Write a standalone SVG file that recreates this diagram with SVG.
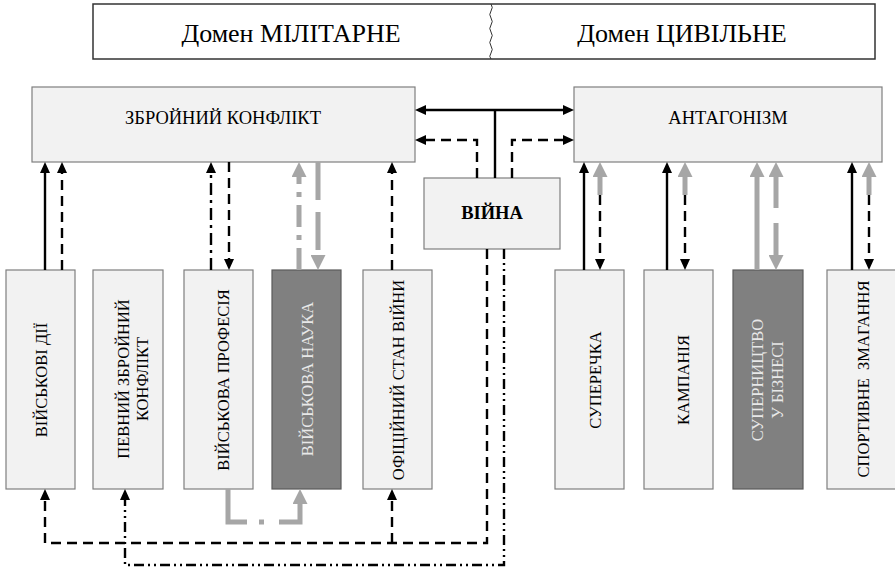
<svg xmlns="http://www.w3.org/2000/svg" width="895" height="567" viewBox="0 0 895 567">
<style>
.box{fill:#f2f2f2;stroke:#7f7f7f;stroke-width:1.2}
.dark{fill:#808080;stroke:#5a5a5a;stroke-width:1.2}
.t{font-family:"Liberation Serif","Times New Roman",serif;fill:#000}
.h{font-size:18.5px}
.v{font-size:16.5px}
.lt{fill:#e8e8e8}
.b{fill:none;stroke:#000;stroke-width:2.4}
.g{fill:none;stroke:#a6a6a6;stroke-width:5}
.dash{stroke-dasharray:10 6}
.dd{stroke-dasharray:12 5 3 5}
.ddd{stroke-dasharray:10 4 2 4 2 4}
</style>
<defs>
<marker id="ab" markerUnits="userSpaceOnUse" markerWidth="11" markerHeight="10" refX="1" refY="5" orient="auto-start-reverse"><path d="M0,0 L11,5 L0,10 z" fill="#000"/></marker>
<marker id="ag" markerUnits="userSpaceOnUse" markerWidth="15" markerHeight="15" refX="1" refY="7.5" orient="auto-start-reverse"><path d="M0,0 L15,7.5 L0,15 z" fill="#a6a6a6"/></marker>
</defs>

<g id="domains">
<rect x="93" y="4" width="782" height="55" fill="#fff" stroke="#333" stroke-width="1.5"/>
<path d="M491,4 q2.5,3.5 0,7 q-2.5,3.5 0,7 q2.5,3.5 0,7 q-2.5,3.5 0,7 q2.5,3.5 0,7 q-2.5,3.5 0,7 q2.5,3.5 0,7 q-2.5,3.5 0,6" fill="none" stroke="#333" stroke-width="1"/>
<text class="t" x="291" y="42" font-size="26" text-anchor="middle">Домен МІЛІТАРНЕ</text>
<text class="t" x="682" y="42" font-size="26" text-anchor="middle">Домен ЦИВІЛЬНЕ</text>
</g>

<g id="n-zk"><rect class="box" x="32" y="87" width="383" height="75"/><text class="t h" x="223" y="124" text-anchor="middle">ЗБРОЙНИЙ КОНФЛІКТ</text></g>
<g id="n-ant"><rect class="box" x="574" y="87" width="308" height="75"/><text class="t h" x="728" y="124" text-anchor="middle">АНТАГОНІЗМ</text></g>
<g id="n-war"><rect class="box" x="424" y="178" width="136" height="71" stroke="#444"/><text class="t h" x="492" y="219" text-anchor="middle" font-weight="bold">ВІЙНА</text></g>

<g id="n-b1"><rect class="box" x="6" y="270" width="69" height="219"/><text class="t v" transform="translate(41,380) rotate(-90)" text-anchor="middle" dominant-baseline="central">ВІЙСЬКОВІ ДІЇ</text></g>
<g id="n-b2"><rect class="box" x="93" y="270" width="70" height="219"/><text class="t v" transform="translate(123,379) rotate(-90)" text-anchor="middle" dominant-baseline="central">ПЕВНИЙ ЗБРОЙНИЙ</text><text class="t v" transform="translate(142,379) rotate(-90)" text-anchor="middle" dominant-baseline="central">КОНФЛІКТ</text></g>
<g id="n-b3"><rect class="box" x="184" y="270" width="69" height="219"/><text class="t v" transform="translate(223,380) rotate(-90)" text-anchor="middle" dominant-baseline="central">ВІЙСЬКОВА ПРОФЕСІЯ</text></g>
<g id="n-b4"><rect class="dark" x="272" y="270" width="69" height="219"/><text class="t v lt" transform="translate(307,379) rotate(-90)" text-anchor="middle" dominant-baseline="central">ВІЙСЬКОВА НАУКА</text></g>
<g id="n-b5"><rect class="box" x="363" y="270" width="69" height="219"/><text class="t v" transform="translate(398,380) rotate(-90)" text-anchor="middle" dominant-baseline="central">ОФІЦІЙНИЙ СТАН ВІЙНИ</text></g>
<g id="n-b6"><rect class="box" x="555" y="270" width="69" height="219"/><text class="t v" transform="translate(595,380) rotate(-90)" text-anchor="middle" dominant-baseline="central">СУПЕРЕЧКА</text></g>
<g id="n-b7"><rect class="box" x="644" y="270" width="69" height="219"/><text class="t v" transform="translate(683,380) rotate(-90)" text-anchor="middle" dominant-baseline="central">КАМПАНІЯ</text></g>
<g id="n-b8"><rect class="dark" x="733" y="270" width="70" height="219"/><text class="t v lt" transform="translate(757,380) rotate(-90)" text-anchor="middle" dominant-baseline="central">СУПЕРНИЦТВО</text><text class="t v lt" transform="translate(777,380) rotate(-90)" text-anchor="middle" dominant-baseline="central">У БІЗНЕСІ</text></g>
<g id="n-b9"><rect class="box" x="827" y="270" width="69" height="219"/><text class="t v" transform="translate(863,379) rotate(-90)" text-anchor="middle" dominant-baseline="central" xml:space="preserve">СПОРТИВНЕ  ЗМАГАННЯ</text></g>

<g id="connectors">
<path class="b" d="M425,110 H564" marker-start="url(#ab)" marker-end="url(#ab)"/>
<path class="b" d="M495,110 V178"/>
<path class="b dash" d="M477,178 V140 H425" marker-end="url(#ab)"/>
<path class="b dash" d="M512,178 V140 H564" marker-end="url(#ab)"/>

<path class="b" d="M45,270 V172" marker-end="url(#ab)"/>
<path class="b dash" d="M62,270 V172" marker-end="url(#ab)"/>
<path class="b dd" d="M211,270 V172" marker-end="url(#ab)"/>
<path class="b dash" d="M229,162 V260" marker-end="url(#ab)"/>
<path class="g" d="M299,270 V176" stroke-dasharray="22 8 5 8" marker-end="url(#ag)"/>
<path class="g" d="M318,162 V256" stroke-dasharray="38 12" marker-end="url(#ag)"/>
<path class="b dash" d="M392,270 V172" marker-end="url(#ab)"/>

<path class="b" d="M584,270 V172" marker-end="url(#ab)"/>
<path class="g" d="M600,195 V176" marker-end="url(#ag)"/>
<path class="b dash" d="M600,195 V260" marker-end="url(#ab)"/>
<path class="b" d="M667,270 V172" marker-end="url(#ab)"/>
<path class="g" d="M685,195 V176" marker-end="url(#ag)"/>
<path class="b dash" d="M685,195 V260" marker-end="url(#ab)"/>
<path class="g" d="M757,270 V176" marker-end="url(#ag)"/>
<path class="g" d="M776,208 V176" marker-end="url(#ag)"/>
<path class="g" d="M776,223 V256" marker-end="url(#ag)"/>
<path class="b" d="M852,270 V172" marker-end="url(#ab)"/>
<path class="g" d="M869,195 V176" marker-end="url(#ag)"/>
<path class="b dash" d="M869,195 V260" marker-end="url(#ab)"/>

<path class="b dash" d="M487,249 V543 H45 V499" marker-end="url(#ab)"/>
<path class="b dash" d="M392,543 V499" marker-end="url(#ab)"/>
<path class="b ddd" d="M504,249 V565 H125 V499" marker-end="url(#ab)"/>
<path class="g" d="M228,489 V522 H300 V503" stroke-dasharray="52 12 5 15 80" marker-end="url(#ag)"/>
</g>
</svg>
